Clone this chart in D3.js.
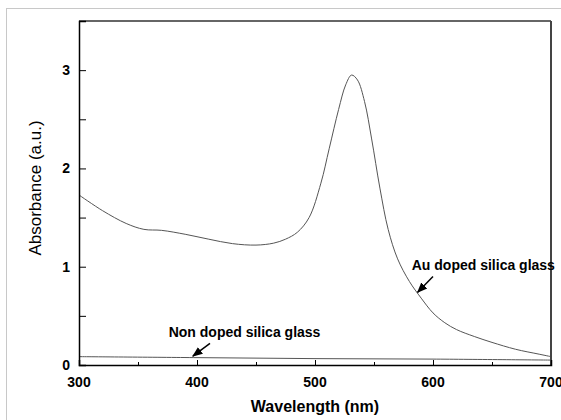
<!DOCTYPE html>
<html>
<head>
<meta charset="utf-8">
<title></title>
<script src="https://cdn.jsdelivr.net/npm/d3@7/dist/d3.min.js"></script>
<style>
body { margin: 0; background: #fff; }
</style>
</head>
<body>
<script>
const width = 561
const height = 420
const margin = { top: 21, right: 10, bottom: 55, left: 79 }

// Au doped silica glass
const auWave = [300, 320, 340, 355, 370, 390, 410, 430, 450, 465, 475, 485, 495, 505, 512, 520, 526, 531, 536, 542, 548, 555, 562, 570, 580, 590, 600, 610, 620, 635, 650, 670, 690, 700]
const auAbs = [1.73, 1.57, 1.44, 1.38, 1.37, 1.33, 1.28, 1.235, 1.22, 1.24, 1.28, 1.35, 1.5, 1.85, 2.2, 2.6, 2.85, 2.95, 2.9, 2.68, 2.3, 1.8, 1.38, 1.08, 0.85, 0.68, 0.53, 0.43, 0.36, 0.29, 0.23, 0.16, 0.11, 0.085]
// Non doped silica glass
const nonWave = [300, 400, 500, 600, 700]
const nonAbs = [0.085, 0.075, 0.065, 0.06, 0.05]

const xTicks = [300, 400, 500, 600, 700]
const xMinor = [350, 450, 550, 650]
const yTicks = [0, 1, 2, 3]
const yMinor = [0.5, 1.5, 2.5]

const svg = d3.select('body').append('svg')
  .attr('width', width)
  .attr('height', height)

// light outer frame
svg.append('rect')
  .attr('x', 6.5).attr('y', 8.5)
  .attr('width', width).attr('height', height)
  .attr('fill', 'none').attr('stroke', '#c8c8c8')

const x = d3.scaleLinear().domain([300, 700]).range([margin.left, width - margin.right])
const y = d3.scaleLinear().domain([0, 3.5]).range([height - margin.bottom, margin.top])

const boldFont = '"Liberation Sans", Arial, sans-serif'

// curves
const line = d3.line()
  .x(d => x(d[0]))
  .y(d => y(d[1]))
  .curve(d3.curveCatmullRom.alpha(0.5))

svg.append('path')
  .datum(d3.zip(auWave, auAbs))
  .attr('d', line)
  .attr('fill', 'none').attr('stroke', '#555').attr('stroke-width', 1)

svg.append('path')
  .datum(d3.zip(nonWave, nonAbs))
  .attr('d', line)
  .attr('fill', 'none').attr('stroke', '#555').attr('stroke-width', 1)

// frame: top and right
svg.append('line')
  .attr('x1', x(300)).attr('x2', x(700))
  .attr('y1', y(3.5)).attr('y2', y(3.5))
  .attr('stroke', '#333').attr('stroke-width', 1.5)
svg.append('line')
  .attr('x1', x(700)).attr('x2', x(700))
  .attr('y1', y(3.5)).attr('y2', y(0))
  .attr('stroke', '#444').attr('stroke-width', 2)

// x axis
const xAxis = svg.append('g')
  .attr('transform', `translate(0,${y(0)})`)
  .call(d3.axisTop(x).tickValues(xTicks).tickSize(5).tickFormat(''))
xAxis.select('.domain').attr('stroke-width', 1.5)
svg.append('g')
  .attr('transform', `translate(0,${y(0)})`)
  .call(d3.axisTop(x).tickValues(xMinor).tickSize(3).tickFormat(''))
  .select('.domain').remove()

svg.append('g').selectAll('text')
  .data(xTicks)
  .join('text')
  .attr('x', d => x(d))
  .attr('y', y(0) + 22)
  .attr('text-anchor', 'middle')
  .attr('font-family', boldFont)
  .attr('font-weight', 'bold')
  .attr('font-size', 14)
  .text(d => d)

// y axis
const yAxis = svg.append('g')
  .attr('transform', `translate(${x(300)},0)`)
  .call(d3.axisRight(y).tickValues(yTicks.concat(yMinor)).tickSize(7).tickFormat(''))
yAxis.select('.domain').attr('stroke-width', 1.5)

svg.append('g').selectAll('text')
  .data(yTicks)
  .join('text')
  .attr('x', x(300) - 9)
  .attr('y', d => y(d) + 5)
  .attr('text-anchor', 'end')
  .attr('font-family', boldFont)
  .attr('font-weight', 'bold')
  .attr('font-size', 14)
  .text(d => d)

// axis titles
svg.append('text')
  .attr('x', (x(300) + x(700)) / 2)
  .attr('y', 412)
  .attr('text-anchor', 'middle')
  .attr('font-family', boldFont)
  .attr('font-weight', 'bold')
  .attr('font-size', 16)
  .text('Wavelength (nm)')

svg.append('text')
  .attr('transform', 'translate(41,188) rotate(-90)')
  .attr('text-anchor', 'middle')
  .attr('font-family', boldFont)
  .attr('font-size', 17)
  .text('Absorbance (a.u.)')

// annotations
svg.append('defs').append('marker')
  .attr('id', 'arrow')
  .attr('viewBox', '0 0 10 10')
  .attr('refX', 9).attr('refY', 5)
  .attr('markerWidth', 7).attr('markerHeight', 7)
  .attr('orient', 'auto')
  .append('path')
  .attr('d', 'M0,1L10,5L0,9Z')
  .attr('fill', '#000')

const notes = [
  { label: 'Au doped silica glass', tx: 582, ty: 0.97, ax1: 600, ay1: 0.9, ax2: 587, ay2: 0.74 },
  { label: 'Non doped silica glass', tx: 376, ty: 0.285, ax1: 411, ay1: 0.22, ax2: 396.5, ay2: 0.09 }
]

notes.forEach(n => {
  svg.append('text')
    .attr('x', x(n.tx)).attr('y', y(n.ty))
    .attr('font-family', boldFont)
    .attr('font-weight', 'bold')
    .attr('font-size', 14)
    .text(n.label)
  svg.append('line')
    .attr('x1', x(n.ax1)).attr('y1', y(n.ay1))
    .attr('x2', x(n.ax2)).attr('y2', y(n.ay2))
    .attr('stroke', '#000').attr('stroke-width', 1.5)
    .attr('marker-end', 'url(#arrow)')
})
</script>
</body>
</html>
